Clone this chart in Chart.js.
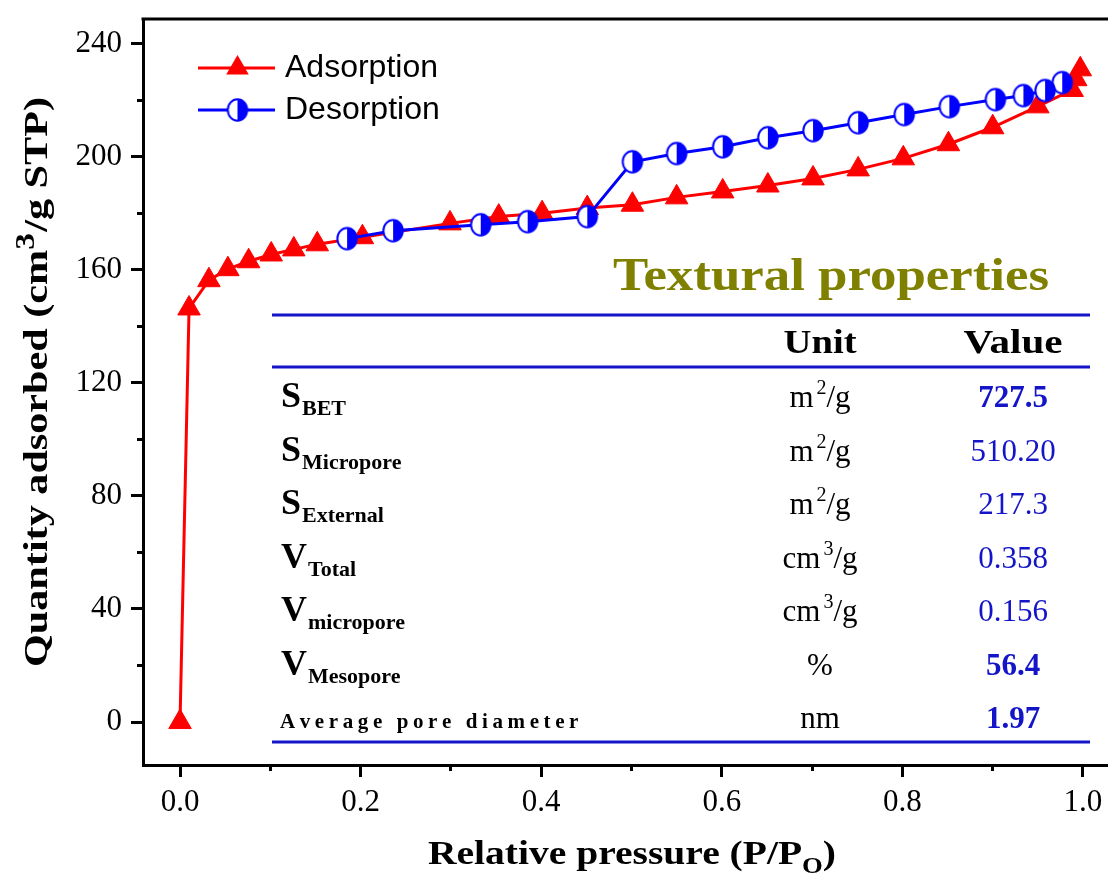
<!DOCTYPE html>
<html>
<head>
<meta charset="utf-8">
<title>N2 adsorption-desorption isotherm</title>
<script src="https://cdn.jsdelivr.net/npm/chart.js@4.4.1/dist/chart.umd.min.js"></script>
<style>
  html, body { margin: 0; padding: 0; background: #fff; overflow: hidden; }
  #chart { display: block; }
</style>
</head>
<body>
<canvas id="chart" width="1108" height="874"></canvas>
<script>
// isotherm branches: relative pressure P/P0 and quantity adsorbed (cm3/g STP)
const adsorptionP = [0, 0.010, 0.032, 0.053, 0.076, 0.101, 0.126, 0.152, 0.202, 0.299, 0.353, 0.401,
  0.451, 0.501, 0.550, 0.601, 0.651, 0.701, 0.751, 0.801, 0.851, 0.900, 0.950, 0.988, 0.992, 0.997];
const adsorptionQ = [0, 146.3, 156.3, 160.2, 163.0, 165.4, 167.2, 169.0, 171.5, 176.4, 178.8, 180.0,
  181.8, 183.0, 185.6, 187.7, 189.8, 192.3, 195.5, 199.4, 204.4, 210.4, 217.8, 223.6, 227.4, 230.9];
const desorptionP = [0.977, 0.958, 0.934, 0.903, 0.852, 0.802, 0.751, 0.701, 0.651, 0.601, 0.550,
  0.501, 0.451, 0.385, 0.333, 0.236, 0.185];
const desorptionQ = [226.2, 223.4, 221.6, 220.2, 217.7, 214.9, 212.0, 209.2, 206.7, 203.5, 201.1,
  198.2, 178.8, 177.0, 175.9, 173.8, 171.0];

const xTicks = [0, 0.2, 0.4, 0.6, 0.8, 1.0];
const xMinorTicks = [0.1, 0.3, 0.5, 0.7, 0.9];
const yTicks = [0, 40, 80, 120, 160, 200, 240];
const yMinorTicks = [20, 60, 100, 140, 180, 220];

// textural properties table
const propSymbols = ['S', 'S', 'S', 'V', 'V', 'V'];
const propSubscripts = ['BET', 'Micropore', 'External', 'Total', 'micropore', 'Mesopore'];
const lastPropName = 'Average pore diameter';
const propUnits = [['m', '2', '/g'], ['m', '2', '/g'], ['m', '2', '/g'], ['cm', '3', '/g'],
  ['cm', '3', '/g'], ['%', '', ''], ['nm', '', '']];
const propValues = ['727.5', '510.20', '217.3', '0.358', '0.156', '56.4', '1.97'];
const propValueBold = [true, false, false, false, false, true, true];

const RED = '#ff0000';
const BLUE = '#0000ff';
const TABLE_BLUE = '#1414c8';
const SERIF = "'Liberation Serif', 'Times New Roman', serif";

// half filled circle marker (left white, right blue)
function halfDisc() {
  const c = document.createElement('canvas');
  c.width = 24; c.height = 26;
  const g = c.getContext('2d');
  g.beginPath(); g.ellipse(12, 13, 9.7, 10.7, 0, 0, Math.PI * 2);
  g.fillStyle = '#fff'; g.fill();
  g.beginPath(); g.ellipse(12, 13, 9.7, 10.7, 0, -Math.PI / 2, Math.PI / 2); g.closePath();
  g.fillStyle = BLUE; g.fill();
  g.beginPath(); g.ellipse(12, 13, 9.7, 10.7, 0, 0, Math.PI * 2);
  g.lineWidth = 2; g.strokeStyle = BLUE; g.stroke();
  return c;
}
const discMarker = halfDisc();

// legend symbol: short line with the marker in the middle
function legendGlyph(color, marker) {
  const c = document.createElement('canvas');
  c.width = 130; c.height = 30;
  const g = c.getContext('2d');
  g.strokeStyle = color; g.lineWidth = 3;
  g.beginPath(); g.moveTo(52, 15); g.lineTo(129, 15); g.stroke();
  const cx = 91.5, cy = 15;
  if (marker === 'triangle') {
    const r = 13;
    g.beginPath();
    g.moveTo(cx, cy - r);
    g.lineTo(cx + r * Math.sin(Math.PI / 3), cy + r / 2);
    g.lineTo(cx - r * Math.sin(Math.PI / 3), cy + r / 2);
    g.closePath();
    g.fillStyle = color; g.fill();
  } else {
    g.drawImage(marker, cx - 12, cy - 13);
  }
  return c;
}

// text made of runs (sub/superscripts), optionally stretched to a given width
function drawRuns(ctx, runs, x, y, opts) {
  let total = 0;
  runs.forEach(r => {
    ctx.font = r.font;
    r.w = ctx.measureText(r.text).width + (r.gap || 0);
    total += r.w;
  });
  const stretch = opts.width ? opts.width / total : (opts.stretch || 1);
  let cx = opts.align === 'center' ? -total / 2 : 0;
  ctx.save();
  ctx.translate(x, y);
  ctx.scale(stretch, 1);
  ctx.fillStyle = opts.color || '#000';
  ctx.textAlign = 'left';
  ctx.textBaseline = 'alphabetic';
  runs.forEach(r => {
    ctx.font = r.font;
    ctx.fillText(r.text, cx + (r.pre || 0), r.dy || 0);
    cx += r.w;
  });
  ctx.restore();
}

function drawSpaced(ctx, text, x, y, spacing) {
  let cx = x;
  for (const ch of text) {
    ctx.fillText(ch, cx, y);
    cx += ctx.measureText(ch).width + spacing;
  }
}

const decorations = {
  id: 'decorations',
  afterDraw(chart) {
    const ctx = chart.ctx;
    const a = chart.chartArea;
    ctx.save();

    // top edge of the frame (the right edge runs past the canvas)
    ctx.strokeStyle = '#000';
    ctx.lineWidth = 3;
    ctx.beginPath(); ctx.moveTo(a.left - 1.5, a.top); ctx.lineTo(a.right, a.top); ctx.stroke();

    // axis titles
    drawRuns(ctx, [
      { text: 'Relative pressure (P/P', font: 'bold 34px ' + SERIF },
      { text: 'O', font: 'bold 23px ' + SERIF, dy: 9 },
      { text: ')', font: 'bold 34px ' + SERIF }
    ], 632, 864, { align: 'center', width: 408 });

    ctx.save();
    ctx.translate(47, 382);
    ctx.rotate(-Math.PI / 2);
    drawRuns(ctx, [
      { text: 'Quantity adsorbed (cm', font: 'bold 34px ' + SERIF },
      { text: '3', font: 'bold 27px ' + SERIF, dy: -13, gap: 1 },
      { text: '/g STP)', font: 'bold 34px ' + SERIF }
    ], 0, 0, { align: 'center', width: 570 });
    ctx.restore();

    // textural properties inset
    const left = 272, right = 1090;
    const unitX = 820, valueX = 1013;
    drawRuns(ctx, [{ text: 'Textural properties', font: 'bold 46px ' + SERIF }],
      831, 290, { align: 'center', width: 436, color: '#808000' });

    ctx.strokeStyle = TABLE_BLUE;
    ctx.lineWidth = 3;
    [315, 367, 742].forEach(yy => {
      ctx.beginPath(); ctx.moveTo(left, yy); ctx.lineTo(right, yy); ctx.stroke();
    });

    drawRuns(ctx, [{ text: 'Unit', font: 'bold 34px ' + SERIF }], unitX, 353, { align: 'center', width: 73 });
    drawRuns(ctx, [{ text: 'Value', font: 'bold 34px ' + SERIF }], valueX, 353, { align: 'center', width: 99 });

    const rowTop = 407, rowStep = 53.5;
    propValues.forEach((val, i) => {
      const by = rowTop + i * rowStep;
      if (i < propSymbols.length) {
        drawRuns(ctx, [
          { text: propSymbols[i], font: 'bold 36px ' + SERIF },
          { text: propSubscripts[i], font: 'bold 22px ' + SERIF, dy: 8, pre: 1 }
        ], 281, by, {});
      } else {
        ctx.fillStyle = '#000';
        ctx.font = 'bold 21px ' + SERIF;
        ctx.textAlign = 'left';
        ctx.textBaseline = 'alphabetic';
        drawSpaced(ctx, lastPropName, 280, by, 4.6);
      }
      const u = propUnits[i];
      const unitRuns = [{ text: u[0], font: '31px ' + SERIF, gap: u[1] ? 3 : 0 }];
      if (u[1]) unitRuns.push({ text: u[1], font: '20px ' + SERIF, dy: -13 });
      if (u[2]) unitRuns.push({ text: u[2], font: '31px ' + SERIF });
      drawRuns(ctx, unitRuns, unitX, by, { align: 'center' });

      drawRuns(ctx, [{ text: val, font: (propValueBold[i] ? 'bold ' : '') + '31px ' + SERIF }],
        valueX, by, { align: 'center', color: TABLE_BLUE });
    });
    ctx.restore();
  }
};

// keep the plot area where the layout padding puts it (no extra room for edge labels)
function noEdgePadding(s) {
  s.paddingLeft = 0; s.paddingRight = 0; s.paddingTop = 0; s.paddingBottom = 0;
}

const X_MIN = -0.041, X_MAX = 1.0277;
const Y_MIN = -15.2, Y_MAX = 248.7;

const axisX = {
  type: 'linear', position: 'bottom', min: X_MIN, max: X_MAX, weight: 1,
  afterBuildTicks: s => { s.ticks = xTicks.map(v => ({ value: v })); },
  afterFit: s => { s.height = 109; noEdgePadding(s); },
  ticks: { callback: v => v.toFixed(1), color: '#000', padding: 7, maxRotation: 0,
    font: { family: SERIF, size: 31 } },
  grid: { drawOnChartArea: false, tickLength: 12, tickWidth: 3, tickColor: '#000' },
  border: { display: true, width: 3, color: '#000' }
};
const axisXMinor = {
  type: 'linear', position: 'bottom', min: X_MIN, max: X_MAX, weight: 0,
  afterBuildTicks: s => { s.ticks = xMinorTicks.map(v => ({ value: v })); },
  afterFit: s => { s.height = 0; noEdgePadding(s); },
  ticks: { display: false },
  grid: { drawOnChartArea: false, tickLength: 6, tickWidth: 3, tickColor: '#000' },
  border: { display: false }
};
const axisY = {
  type: 'linear', position: 'left', min: Y_MIN, max: Y_MAX, weight: 1,
  afterBuildTicks: s => { s.ticks = yTicks.map(v => ({ value: v })); },
  afterFit: s => { s.width = 143; noEdgePadding(s); },
  ticks: { callback: v => String(v), color: '#000', padding: 9,
    font: { family: SERIF, size: 31 } },
  grid: { drawOnChartArea: false, tickLength: 12, tickWidth: 3, tickColor: '#000' },
  border: { display: true, width: 3, color: '#000' }
};
const axisYMinor = {
  type: 'linear', position: 'left', min: Y_MIN, max: Y_MAX, weight: 0,
  afterBuildTicks: s => { s.ticks = yMinorTicks.map(v => ({ value: v })); },
  afterFit: s => { s.width = 0; noEdgePadding(s); },
  ticks: { display: false },
  grid: { drawOnChartArea: false, tickLength: 6, tickWidth: 3, tickColor: '#000' },
  border: { display: false }
};

const adsorptionGlyph = legendGlyph(RED, 'triangle');
const desorptionGlyph = legendGlyph(BLUE, discMarker);

new Chart(document.getElementById('chart'), {
  type: 'scatter',
  data: {
    datasets: [
      {
        label: 'Adsorption',
        data: adsorptionP.map((p, i) => ({ x: p, y: adsorptionQ[i] })),
        showLine: true,
        borderColor: RED,
        borderWidth: 3,
        pointStyle: 'triangle',
        pointRadius: 13,
        pointBackgroundColor: RED,
        pointBorderColor: RED,
        pointBorderWidth: 1,
        xAxisID: 'x', yAxisID: 'y',
        order: 2
      },
      {
        label: 'Desorption',
        data: desorptionP.map((p, i) => ({ x: p, y: desorptionQ[i] })),
        showLine: true,
        borderColor: BLUE,
        borderWidth: 3,
        pointStyle: discMarker,
        pointRadius: 11,
        xAxisID: 'x', yAxisID: 'y',
        order: 1
      }
    ]
  },
  options: {
    responsive: false,
    animation: false,
    layout: { autoPadding: false, padding: { top: 19, right: 0, left: 0, bottom: 0 } },
    scales: { x: axisX, xMinor: axisXMinor, y: axisY, yMinor: axisYMinor },
    plugins: {
      tooltip: { enabled: false },
      legend: {
        position: 'chartArea',
        align: 'start',
        title: { display: true, text: ' ', padding: 0, font: { size: 42, lineHeight: 1 } },
        labels: {
          usePointStyle: true,
          pointStyleWidth: 116,
          padding: 10,
          color: '#000',
          font: { family: "'Liberation Sans', Arial, sans-serif", size: 32 },
          generateLabels: () => [
            { text: 'Adsorption', pointStyle: adsorptionGlyph, fillStyle: RED, strokeStyle: RED,
              lineWidth: 0, hidden: false, datasetIndex: 0, fontColor: '#000' },
            { text: 'Desorption', pointStyle: desorptionGlyph, fillStyle: BLUE, strokeStyle: BLUE,
              lineWidth: 0, hidden: false, datasetIndex: 1, fontColor: '#000' }
          ]
        }
      }
    }
  },
  plugins: [decorations]
});
</script>
</body>
</html>
